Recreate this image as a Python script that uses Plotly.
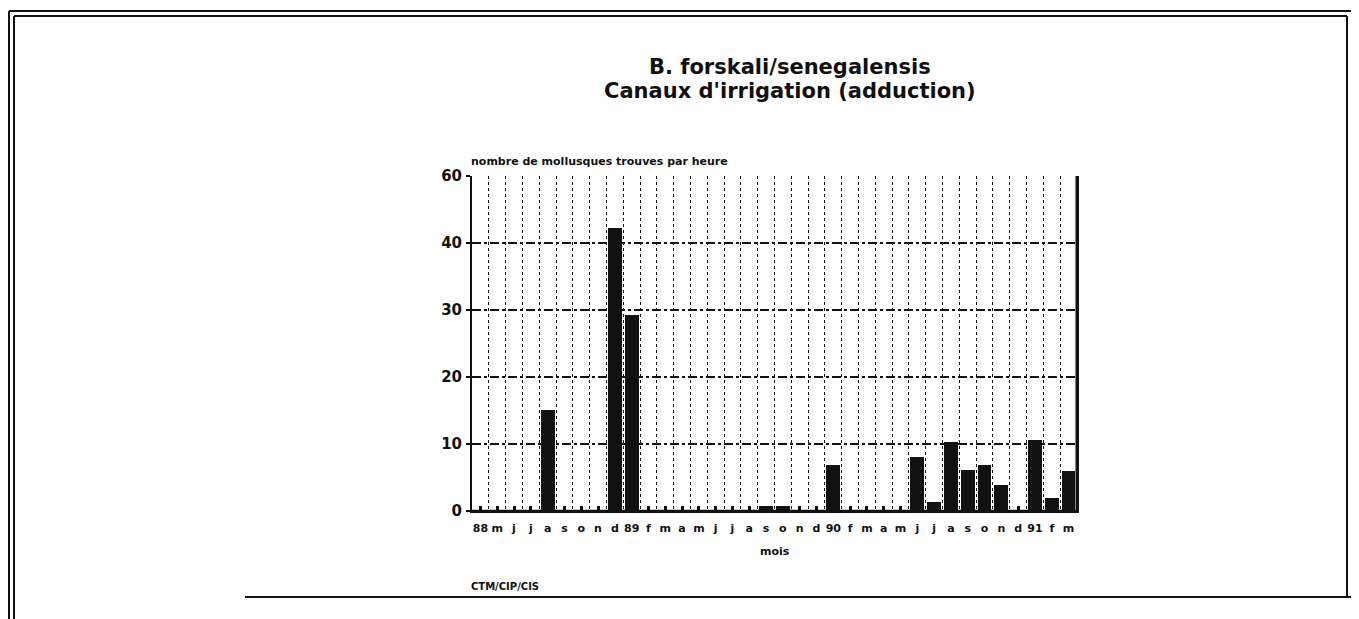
"""B. forskali/senegalensis - canaux d'irrigation (adduction), monthly bar chart."""

import plotly.graph_objects as go

# one slot per month, April 1988 to March 1991
mois_labels = [
    "88", "m", "j", "j", "a", "s", "o", "n", "d",
    "89", "f", "m", "a", "m", "j", "j", "a", "s", "o", "n", "d",
    "90", "f", "m", "a", "m", "j", "j", "a", "s", "o", "n", "d",
    "91", "f", "m",
]
mollusques_par_heure = [
    0, 0, 0, 0, 15.1, 0, 0, 0, 42.3,
    29.3, 0, 0, 0, 0, 0, 0, 0, 0.8, 0.7, 0, 0,
    6.8, 0, 0, 0, 0, 8.0, 1.4, 10.3, 6.1, 6.9, 3.9, 0,
    10.6, 2.0, 6.0,
]
y_ticks = [0, 10, 20, 30, 40, 50]
y_ticktext = ["0", "10", "20", "30", "40", "60"]

# the page body adds an 8px margin, so work in screen pixels and shift
OFF = 8
W, H = 1359 - OFF, 619 - OFF
PLOT_L, PLOT_R, PLOT_T, PLOT_B = 472, 1077, 176, 511
FONT = "DejaVu Sans"
INK = "#111111"


def px_x(x):
    return (x - PLOT_L) / (PLOT_R - PLOT_L)


def px_y(y):
    return (PLOT_B - y) / (PLOT_B - PLOT_T)


def label(text, x, y, size, xanchor="center"):
    fig.add_annotation(text=f"<b>{text}</b>", xref="paper", yref="paper",
                       x=px_x(x), y=px_y(y), xanchor=xanchor, yanchor="middle",
                       showarrow=False, font=dict(family=FONT, size=size, color=INK))


n = len(mois_labels)
pos = list(range(n))

fig = go.Figure()
fig.add_trace(
    go.Bar(
        x=pos,
        y=mollusques_par_heure,
        width=0.82,
        marker=dict(color=INK, line=dict(width=0)),
        xaxis="x",
        yaxis="y",
        showlegend=False,
    )
)
# invisible trace on the overlay axis that carries the month-boundary grid
fig.add_trace(
    go.Scatter(x=[pos[0] - 0.5, pos[-1] + 0.5], y=[0, 0], mode="lines",
               line=dict(width=0), xaxis="x2", yaxis="y", showlegend=False,
               hoverinfo="skip")
)

fig.update_layout(
    width=W,
    height=H,
    margin=dict(l=PLOT_L - OFF, r=W - (PLOT_R - OFF), t=PLOT_T - OFF,
                b=H - (PLOT_B - OFF), pad=0),
    paper_bgcolor="white",
    plot_bgcolor="white",
    font=dict(family=FONT, color=INK),
    bargap=0,
    xaxis=dict(
        range=[-0.5, n - 0.5],
        tickmode="array",
        tickvals=pos,
        ticktext=[f"<b>{t}</b>" for t in mois_labels],
        tickfont=dict(size=11, family=FONT, color=INK),
        ticks="inside",
        ticklen=5,
        tickwidth=3,
        tickcolor=INK,
        ticklabelstandoff=6,
        showgrid=False,
        zeroline=False,
        showline=True,
        linecolor=INK,
        linewidth=2,
        mirror=False,
    ),
    xaxis2=dict(
        overlaying="x",
        range=[-0.5, n - 0.5],
        tickmode="array",
        tickvals=[p + 0.5 for p in pos[:-1]],
        showticklabels=False,
        ticks="",
        showgrid=True,
        gridcolor=INK,
        gridwidth=1,
        griddash="dot",
        zeroline=False,
    ),
    yaxis=dict(
        range=[0, 50],
        tickmode="array",
        tickvals=y_ticks,
        ticktext=[f"<b>{t}</b>" for t in y_ticktext],
        tickfont=dict(size=15, family=FONT, color=INK),
        ticks="outside",
        ticklen=4,
        tickwidth=2,
        tickcolor=INK,
        ticklabelstandoff=1,
        showgrid=True,
        gridcolor=INK,
        gridwidth=1.5,
        griddash="dashdot",
        zeroline=False,
        showline=True,
        linecolor=INK,
        linewidth=2,
        mirror=True,
    ),
)

# right-hand border and base line of the plot are heavier in the original
fig.add_shape(type="line", xref="paper", yref="paper", x0=1, x1=1, y0=0, y1=1,
              line=dict(color=INK, width=3))
fig.add_shape(type="line", xref="paper", yref="paper", x0=0, x1=1, y0=0, y1=0,
              line=dict(color=INK, width=2.5))

# double frame around the page (screen pixels)
frame = [
    (9, 11, 9, 619), (14, 16, 14, 619),
    (9, 11, 1352, 11), (14, 16, 1347, 16),
    (1352, 11, 1352, 597), (1347, 16, 1347, 597),
    (245, 597, 1352, 597),
]
for x0, y0, x1, y1 in frame:
    fig.add_shape(type="line", xref="paper", yref="paper",
                  x0=px_x(x0), y0=px_y(y0), x1=px_x(x1), y1=px_y(y1),
                  line=dict(color=INK, width=2))

label("B. forskali/senegalensis", 790, 67, 21)
label("Canaux d'irrigation (adduction)", 790, 91, 21)
label("nombre de mollusques trouves par heure", 469, 161, 11, xanchor="left")
label("mois", 775, 551, 11)
label("CTM/CIP/CIS", 469, 586, 10, xanchor="left")

fig.write_html("out.html")
